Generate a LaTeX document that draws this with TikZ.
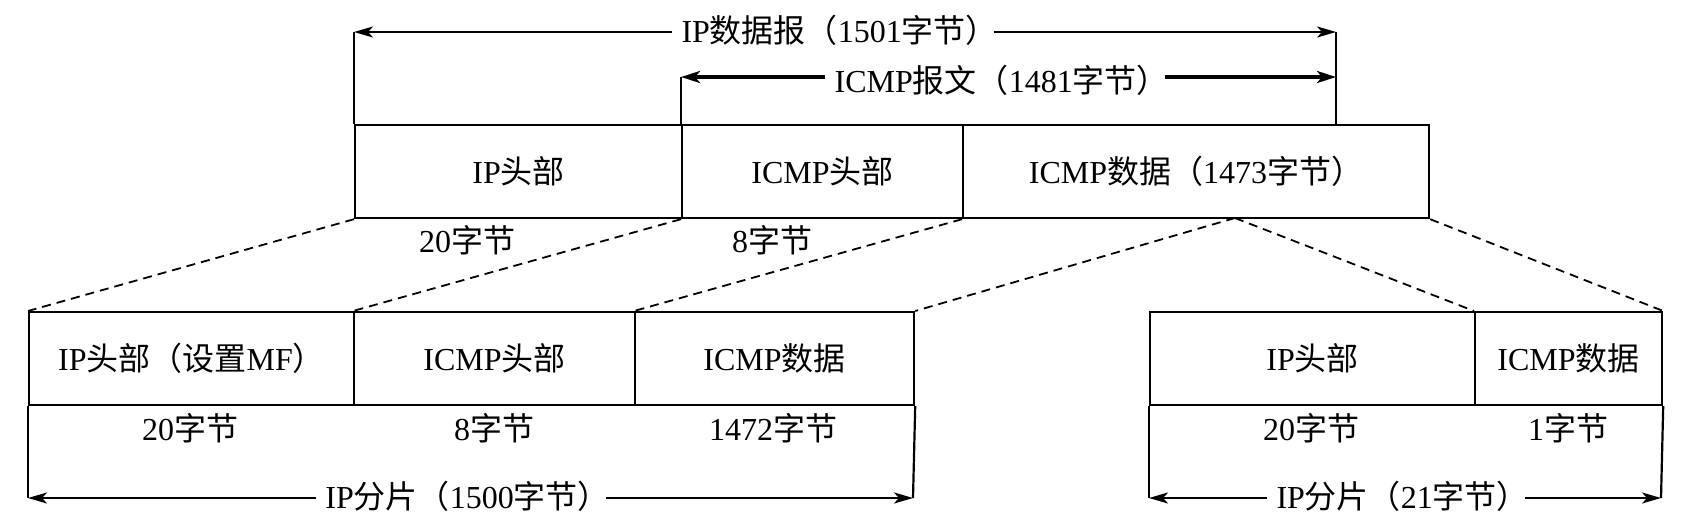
\documentclass[tikz,border=0pt]{standalone}
\usepackage{fontspec}
\setmainfont{Liberation Serif}
\newfontfamily\cjk{Noto Sans CJK SC}
\newcommand{\zh}[1]{{\cjk #1}}
\newcommand{\rparz}{\zh{）}\kern-0.42em}
\usetikzlibrary{arrows.meta}
\tikzset{
  txt/.style={font=\fontsize{32}{37}\selectfont, inner sep=0pt},
  cell/.style={txt, draw, line width=2.2pt, minimum height=93pt, anchor=north west},
  bline/.style={line width=2.2pt},
  dim/.style={line width=2.2pt, -{Stealth[length=19pt,width=11pt,inset=5pt]}},
  dimthick/.style={line width=4pt, -{Stealth[length=19pt,width=12pt,inset=5pt]}},
  dimlbl/.style={txt, anchor=base, inner xsep=9pt, inner ysep=0pt},
  dashline/.style={line width=1.8pt, dash pattern=on 9pt off 6pt},
}
\begin{document}
\begin{tikzpicture}[x=1pt,y=-1pt]
\useasboundingbox (0,0) rectangle (1688,530);
\fill[white] (0,0) rectangle (1688,530);

% top row of cells
\node[cell, minimum width=327pt] (t1) at (354,124) {IP\zh{头部}};
\node[cell, minimum width=281pt] (t2) at (681,124) {ICMP\zh{头部}};
\node[cell, minimum width=466pt] (t3) at (962,124) {ICMP\zh{数据（}1473\zh{字节）}};
\node[txt, anchor=base] (t1b) at (467,252) {20\zh{字节}};
\node[txt, anchor=base] (t2b) at (772,252) {8\zh{字节}};

% top dimension arrows
\coordinate (aL) at (354,32);
\coordinate (aR) at (1336,32);
\coordinate (aRb) at (1336,124);
\coordinate (iL) at (681,77);
\coordinate (iR) at (1336,77);
\draw[bline] (aL) -- (t1.north west);
\draw[bline] (aR) -- (aRb);
\draw[bline] (iL) -- (t2.north west);
\node[dimlbl] (la) at (833,42) {IP\zh{数据报（}1501\zh{字节}\rparz};
\draw[dim] (la.west |- aL) -- (aL);
\draw[dim] (la.east |- aR) -- (aR);
\node[dimlbl] (li) at (995,92) {ICMP\zh{报文（}1481\zh{字节}\rparz};
\draw[dimthick] (li.west |- iL) -- (iL);
\draw[dimthick] (li.east |- iR) -- (iR);

% first fragment
\node[cell, minimum width=325pt] (b1) at (28,311) {IP\zh{头部（设置}MF\zh{）}};
\node[cell, minimum width=281pt] (b2) at (353,311) {ICMP\zh{头部}};
\node[cell, minimum width=279pt] (b3) at (634,311) {ICMP\zh{数据}};
\node[txt, anchor=base] (b1b) at (190,440) {20\zh{字节}};
\node[txt, anchor=base] (b2b) at (494,440) {8\zh{字节}};
\node[txt, anchor=base] (b3b) at (773,440) {1472\zh{字节}};
\coordinate (fL) at (28,498);
\coordinate (fR) at (913,498);
\draw[bline] (b1.south west) -- (fL);
\draw[bline] (b3.south east) -- (fR);
\node[dimlbl] (lf) at (461,508) {IP\zh{分片（}1500\zh{字节}\rparz};
\draw[dim] (lf.west |- fL) -- (fL);
\draw[dim] (lf.east |- fR) -- (fR);

% second fragment
\node[cell, minimum width=325pt] (c1) at (1149,311) {IP\zh{头部}};
\node[cell, minimum width=187pt] (c2) at (1474,311) {ICMP\zh{数据}};
\node[txt, anchor=base] (c1b) at (1311,440) {20\zh{字节}};
\node[txt, anchor=base] (c2b) at (1568,440) {1\zh{字节}};
\coordinate (gL) at (1149,498);
\coordinate (gR) at (1661,498);
\draw[bline] (c1.south west) -- (gL);
\draw[bline] (c2.south east) -- (gR);
\node[dimlbl] (lg) at (1396,508) {IP\zh{分片（}21\zh{字节}\rparz};
\draw[dim] (lg.west |- gL) -- (gL);
\draw[dim] (lg.east |- gR) -- (gR);

% dashed mapping lines
\coordinate (sp) at (1235,218);
\draw[dashline] (t1.south west) -- (b1.north west);
\draw[dashline] (t2.south west) -- (b2.north west);
\draw[dashline] (t3.south west) -- (b3.north west);
\draw[dashline] (sp) -- (b3.north east);
\draw[dashline] (sp) -- (c2.north west);
\draw[dashline] (t3.south east) -- (c2.north east);
\end{tikzpicture}
\end{document}
